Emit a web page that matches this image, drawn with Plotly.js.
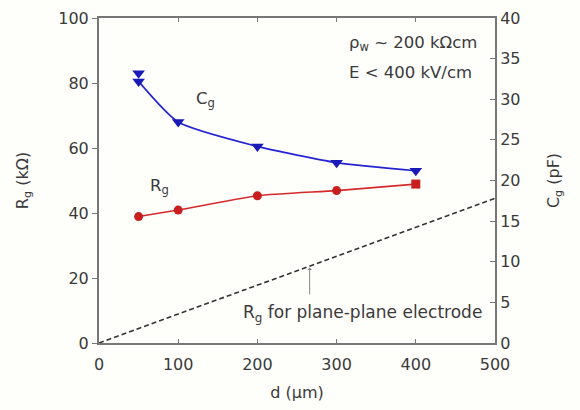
<!DOCTYPE html>
<html>
<head>
<meta charset="utf-8">
<script src="https://cdn.plot.ly/plotly-3.0.1.min.js"></script>
<style>html,body{margin:0;padding:0;background:#fefefb;}</style>
</head>
<body>
<div id="chart" style="width:580px;height:410px;"></div>
<script>
// Data
const dValues = [50, 100, 200, 300, 400];          // d (µm)
const rgValues = [38.9, 40.9, 45.3, 46.9, 48.9];   // Rg (kΩ)
const rgSymbols = ['circle', 'circle', 'circle', 'circle', 'square'];
const cgValues = [32.2, 27.2, 24.2, 22.2, 21.2];   // Cg (pF)
const cgExtraD = [50];
const cgExtraValues = [33.2];                      // second Cg reading at d = 50
const planeD = [0, 500];
const planeRg = [0, 44.5];                          // Rg for plane-plane electrode (kΩ)
const xTicks = [0, 100, 200, 300, 400, 500];
const rgTicks = [0, 20, 40, 60, 80, 100];
const cgTicks = [0, 5, 10, 15, 20, 25, 30, 35, 40];

const fam = 'DejaVu Sans, Liberation Sans, sans-serif';
const font = {family: fam, size: 16, color: '#3a3a3a'};
const aFont = {family: fam, size: 16.5, color: '#3a3a3a'};

const traces = [
  {x: planeD, y: planeRg, mode: 'lines', line: {color: '#333', width: 1.6, dash: '5px,3px'}, hoverinfo: 'skip'},
  {x: dValues, y: rgValues, mode: 'lines+markers', line: {color: '#d42a2a', width: 1.6, shape: 'spline', smoothing: 0.6},
   marker: {color: '#c81e1e', size: 9, symbol: rgSymbols}},
  {x: dValues, y: cgValues, yaxis: 'y2', mode: 'lines+markers', line: {color: '#2424d4', width: 1.6, shape: 'spline', smoothing: 0.6},
   marker: {color: '#1a1ab8', size: 11, symbol: 'triangle-down'}},
  {x: cgExtraD, y: cgExtraValues, yaxis: 'y2', mode: 'markers', marker: {color: '#1a1ab8', size: 11, symbol: 'triangle-down'}}
];

const layout = {
  width: 580, height: 410,
  margin: {l: 99, r: 85, t: 18, b: 67},
  paper_bgcolor: '#fefefb', plot_bgcolor: '#fefefb',
  showlegend: false,
  font: font,
  xaxis: {
    range: [0, 500], tickvals: xTicks, ticks: 'inside', ticklen: 4, tickcolor: '#777',
    showline: true, linecolor: '#777', linewidth: 2, mirror: 'ticks', showgrid: false, zeroline: false,
    ticklabelstandoff: 6,
    title: {text: 'd (µm)', font: font, standoff: 14}, tickfont: font
  },
  yaxis: {
    range: [0, 100], tickvals: rgTicks, ticks: 'outside', ticklen: 5, tickcolor: '#777',
    showline: true, linecolor: '#777', linewidth: 2, showgrid: false, zeroline: false,
    title: {text: 'R<sub>g</sub> (kΩ)', font: font, standoff: 26}, tickfont: font
  },
  yaxis2: {
    overlaying: 'y', side: 'right', range: [0, 40], tickvals: cgTicks, ticks: 'inside', ticklen: 5, tickcolor: '#777',
    showline: true, linecolor: '#777', linewidth: 2, showgrid: false, zeroline: false,
    title: {text: 'C<sub>g</sub> (pF)', font: font, standoff: 28}, tickfont: font
  },
  annotations: [
    {x: 134, y: 74.8, text: 'C<sub>g</sub>', showarrow: false, font: aFont},
    {x: 77, y: 48.3, text: 'R<sub>g</sub>', showarrow: false, font: aFont},
    {x: 313, y: 92.3, xanchor: 'left', text: 'ρ<sub>w</sub> ~ 200 kΩcm', showarrow: false, font: aFont},
    {x: 313, y: 83.1, xanchor: 'left', text: 'E < 400 kV/cm', showarrow: false, font: aFont},
    {x: 179, y: 9.2, xanchor: 'left', text: 'R<sub>g</sub> for plane-plane electrode', showarrow: false, font: {family: fam, size: 17, color: '#3a3a3a'}},
    {x: 266, y: 23.2, ax: 266, ay: 14.5, axref: 'x', ayref: 'y', text: '', showarrow: true,
     arrowhead: 1, arrowsize: 0.8, arrowwidth: 1, arrowcolor: '#888'}
  ]
};

Plotly.newPlot('chart', traces, layout, {displayModeBar: false, staticPlot: true});
</script>
</body>
</html>
